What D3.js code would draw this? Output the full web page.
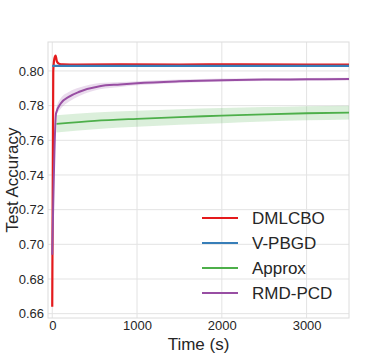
<!DOCTYPE html>
<html>
<head>
<meta charset="utf-8">
<script src="https://cdn.jsdelivr.net/npm/d3@7"></script>
<style>
  body { margin: 0; background: #fff; }
  text { font-family: "Liberation Sans", Arial, sans-serif; fill: #262626; }
</style>
</head>
<body>
<div id="chart"></div>
<script>
// series
const methods = ["DMLCBO", "V-PBGD", "Approx", "RMD-PCD"];
const colors = ["#e41a1c", "#377eb8", "#4daf4a", "#984ea3"];

const dmlcboTime = [0, 12, 25, 40, 55, 80, 120, 300, 800, 1500, 2200, 3000, 3500];
const dmlcboAcc = [0.664, 0.800, 0.8070, 0.8088, 0.8055, 0.8042, 0.8038, 0.8037, 0.8038, 0.8037, 0.8038, 0.8037, 0.8037];
const dmlcboStd = [0, 0, 0, 0, 0.0003, 0.0003, 0.0003, 0.0003, 0.0003, 0.0003, 0.0003, 0.0003, 0.0003];

const vpbgdTime = [0, 3500];
const vpbgdAcc = [0.8029, 0.8029];
const vpbgdStd = [0, 0];

const approxTime = [50, 500, 1000, 1500, 2000, 2500, 3000, 3500];
const approxAcc = [0.7695, 0.7712, 0.7724, 0.7734, 0.7742, 0.7750, 0.7756, 0.7760];
const approxStd = [0.0050, 0.0048, 0.0046, 0.0045, 0.0044, 0.0042, 0.0041, 0.0040];

const rmdTime = [0, 45, 100, 200, 320, 560, 800, 1000, 1500, 2000, 2500, 3000, 3500];
const rmdAcc = [0.694, 0.7756, 0.7812, 0.7852, 0.7880, 0.7912, 0.7922, 0.7929, 0.7940, 0.7947, 0.7950, 0.7952, 0.7953];
const rmdStd = [0, 0.0020, 0.0030, 0.0028, 0.0024, 0.0018, 0.0014, 0.0012, 0.0010, 0.0009, 0.0008, 0.0008, 0.0008];

const xTicks = [0, 1000, 2000, 3000];
const yTicks = [0.66, 0.68, 0.70, 0.72, 0.74, 0.76, 0.78, 0.80];

const series = [
  {time: dmlcboTime, acc: dmlcboAcc, std: dmlcboStd, width: 2.2},
  {time: vpbgdTime, acc: vpbgdAcc, std: vpbgdStd, width: 2.2},
  {time: approxTime, acc: approxAcc, std: approxStd, width: 1.8},
  {time: rmdTime, acc: rmdAcc, std: rmdStd, width: 2}
].map((s, i) => ({
  name: methods[i],
  color: colors[i],
  width: s.width,
  points: s.time.map((t, j) => ({t: t, y: s.acc[j], sd: s.std[j]}))
}));

const width = 388, height = 358;
const margin = {top: 42, right: 39, bottom: 40, left: 48};
const innerW = width - margin.left - margin.right;
const innerH = height - margin.top - margin.bottom;

const svg = d3.select("#chart").append("svg")
  .attr("width", width)
  .attr("height", height);

const g = svg.append("g")
  .attr("transform", `translate(${margin.left},${margin.top})`);

const x = d3.scaleLinear().domain([-50, 3500]).range([0, innerW]);
const y = d3.scaleLinear().domain([0.6575, 0.8167]).range([innerH, 0]);

// grid
g.append("g").selectAll("line").data(xTicks).join("line")
  .attr("x1", d => x(d)).attr("x2", d => x(d))
  .attr("y1", 0).attr("y2", innerH)
  .attr("stroke", "#e3e3e3").attr("stroke-width", 1);
g.append("g").selectAll("line").data(yTicks).join("line")
  .attr("x1", 0).attr("x2", innerW)
  .attr("y1", d => y(d)).attr("y2", d => y(d))
  .attr("stroke", "#e3e3e3").attr("stroke-width", 1);

// frame
g.append("rect")
  .attr("width", innerW).attr("height", innerH)
  .attr("fill", "none").attr("stroke", "#dcdcdc").attr("stroke-width", 1);

// axes
const xAxis = g.append("g")
  .attr("transform", `translate(0,${innerH})`)
  .call(d3.axisBottom(x).tickValues(xTicks).tickSize(0).tickPadding(3).tickFormat(d3.format("d")));
const yAxis = g.append("g")
  .call(d3.axisLeft(y).tickValues(yTicks).tickSize(0).tickPadding(4).tickFormat(d3.format(".2f")));
[xAxis, yAxis].forEach(a => {
  a.select(".domain").remove();
  a.selectAll("text").attr("font-size", 13).attr("font-family", null).style("fill", "#262626");
});

// bands then lines
const area = d3.area()
  .x(d => x(d.t))
  .y0(d => y(d.y - d.sd))
  .y1(d => y(d.y + d.sd))
  .curve(d3.curveMonotoneX);
const line = d3.line()
  .x(d => x(d.t))
  .y(d => y(d.y))
  .curve(d3.curveMonotoneX);

g.append("clipPath").attr("id", "clip")
  .append("rect").attr("width", innerW).attr("height", innerH);

const plot = g.append("g").attr("clip-path", "url(#clip)");
series.forEach(s => {
  plot.append("path").datum(s.points)
    .attr("d", area)
    .attr("fill", s.color).attr("fill-opacity", 0.2);
  plot.append("path").datum(s.points)
    .attr("d", line)
    .attr("fill", "none")
    .attr("stroke", s.color)
    .attr("stroke-width", s.width);
});

// axis labels
svg.append("text")
  .attr("x", margin.left + innerW / 2).attr("y", 350)
  .attr("text-anchor", "middle").attr("font-size", 17)
  .text("Time (s)");
svg.append("text")
  .attr("transform", `translate(18,${margin.top + innerH / 2}) rotate(-90)`)
  .attr("text-anchor", "middle").attr("font-size", 17)
  .text("Test Accuracy");

// legend
const legend = svg.append("g").attr("transform", "translate(202,218)");
series.forEach((s, i) => {
  const row = legend.append("g").attr("transform", `translate(0,${i * 25})`);
  row.append("line")
    .attr("x1", 0).attr("x2", 36)
    .attr("stroke", s.color).attr("stroke-width", 2);
  row.append("text")
    .attr("x", 50).attr("dy", "0.35em")
    .attr("font-size", 17)
    .text(s.name);
});
</script>
</body>
</html>
